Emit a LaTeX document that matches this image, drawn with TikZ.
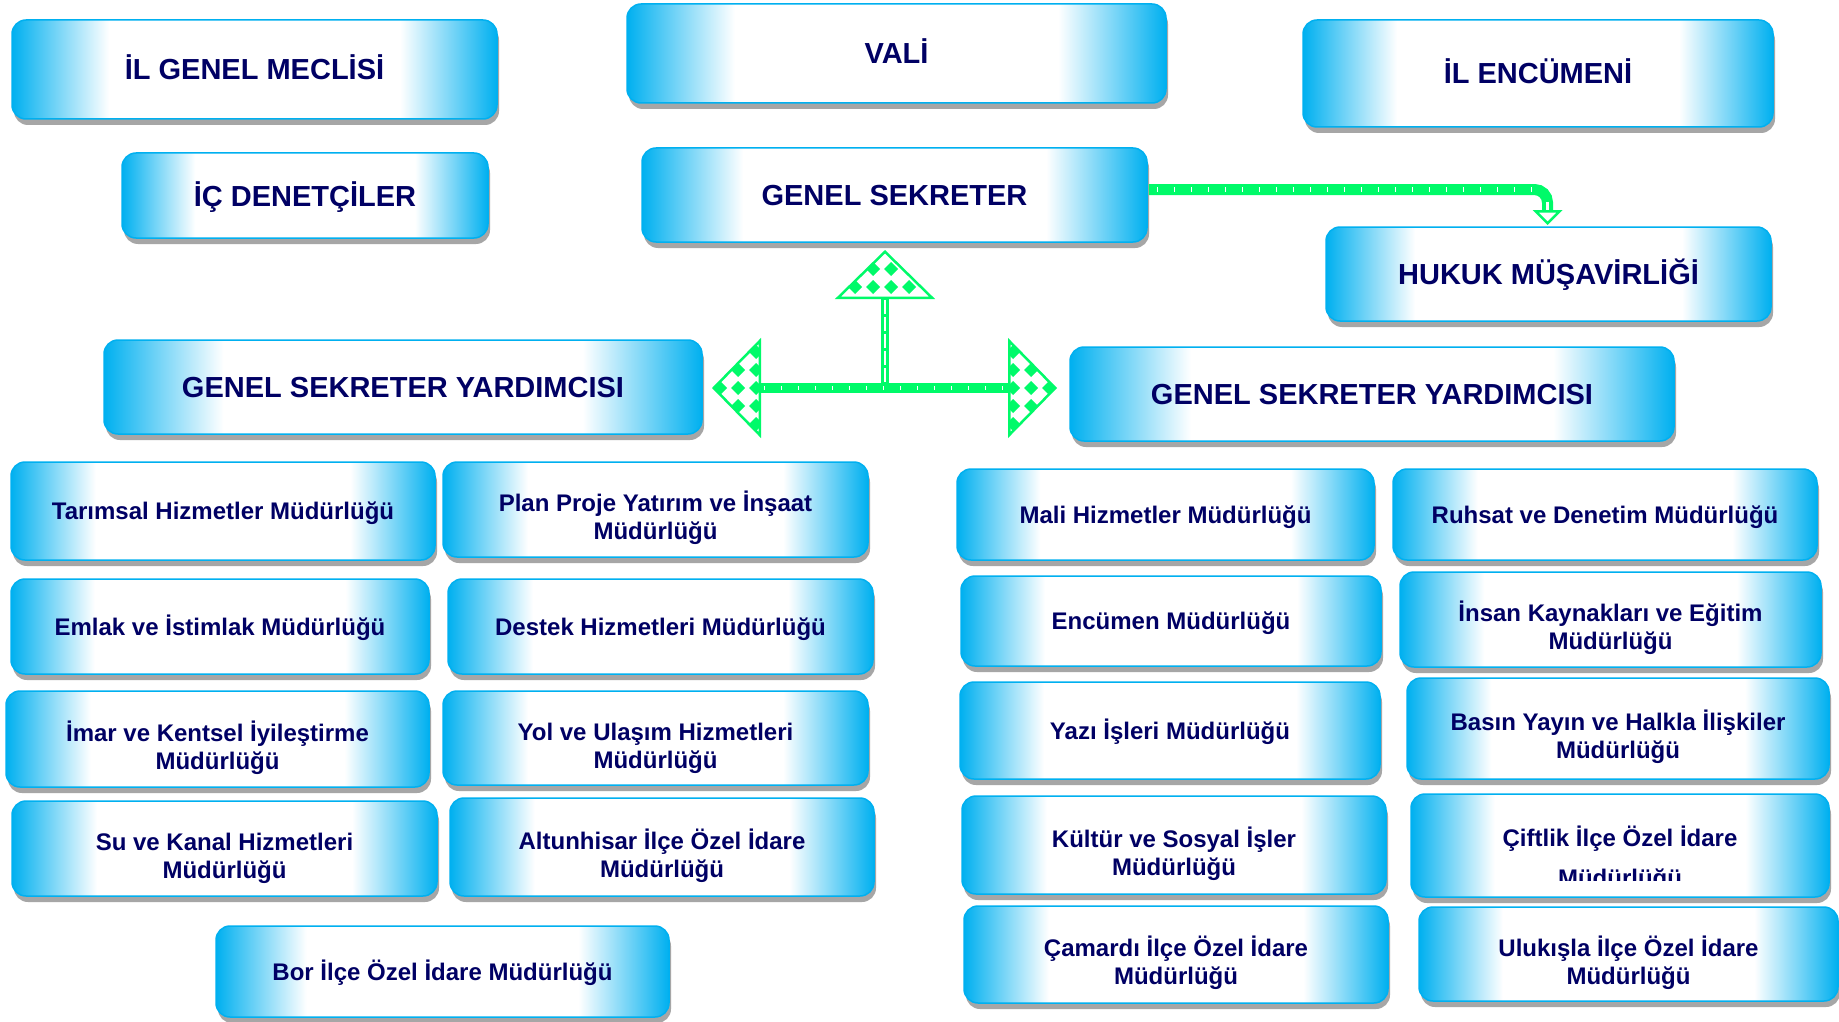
\documentclass[tikz,border=0pt]{standalone}
\usepackage{fontspec}
\setmainfont{Liberation Sans}
\usetikzlibrary{shadows,calc}
\definecolor{boxblue}{RGB}{0,176,240}
\definecolor{navy}{RGB}{0,0,100}
\definecolor{arrgreen}{RGB}{0,250,105}
\pgfdeclarehorizontalshading{boxshade}{100bp}{rgb(0bp)=(0,0.69,0.94); rgb(25bp)=(0,0.69,0.94); rgb(35bp)=(1,1,1); rgb(65bp)=(1,1,1); rgb(75bp)=(0,0.69,0.94); rgb(100bp)=(0,0.69,0.94)}
\tikzset{
  obox/.style={rounded corners=14pt, draw=boxblue, line width=1.5pt, shade, shading=boxshade,
    text=navy, align=center, inner sep=0pt,
    drop shadow={shadow xshift=2pt, shadow yshift=-6pt, fill=black!35, opacity=1}},
  title/.style={obox, font=\bfseries\fontsize{29pt}{34pt}\selectfont, text height=21pt, text depth=0pt},
  unitone/.style={obox, font=\bfseries\fontsize{24pt}{28pt}\selectfont, text height=17pt, text depth=0pt},
  unittwo/.style={obox, font=\bfseries\fontsize{24pt}{28pt}\selectfont, text height=60pt, text depth=0pt},
  plain/.style={text=navy, font=\bfseries\fontsize{24pt}{28pt}\selectfont, inner sep=0pt},
  headline/.style={arrgreen, line width=2.5pt, line join=miter},
}
\newcommand\orgbox[7]{%
  \node[#6, minimum width={(#4)-(#2)}, minimum height={(#5)-(#3)}] (#1) at ({((#2)+(#4))/2},{((#3)+(#5))/2}) {#7};}
\begin{document}
\begin{tikzpicture}[x=1pt,y=-1pt]
\fill[white] (0,0) rectangle (1839,1022);
\useasboundingbox (0,0) rectangle (1839,1022);

% top level
\orgbox{ilgm}{12}{20}{497}{119}{title}{İL GENEL MECLİSİ}
\orgbox{vali}{627}{4}{1166}{103}{title}{VALİ}
\orgbox{ilenc}{1303}{20}{1773}{127}{title}{İL ENCÜMENİ}
\orgbox{icd}{122}{153}{488}{238}{title}{İÇ DENETÇİLER}
\orgbox{gs}{642}{148}{1147}{242}{title}{GENEL SEKRETER}
\orgbox{hukuk}{1326}{227}{1771}{321}{title}{HUKUK MÜŞAVİRLİĞİ}
\orgbox{gsyL}{104}{340}{702}{434}{title}{GENEL SEKRETER YARDIMCISI}
\orgbox{gsyR}{1070}{347}{1674}{441}{title}{GENEL SEKRETER YARDIMCISI}

% left units
\orgbox{tarim}{11}{462}{435}{560}{unitone}{Tarımsal Hizmetler Müdürlüğü}
\orgbox{plan}{443}{462}{868}{557}{unittwo}{Plan Proje Yatırım ve İnşaat\\Müdürlüğü}
\orgbox{emlak}{11}{579}{429}{674}{unitone}{Emlak ve İstimlak Müdürlüğü}
\orgbox{destek}{448}{579}{873}{674}{unitone}{Destek Hizmetleri Müdürlüğü}
\orgbox{imar}{6}{691}{429}{787}{unittwo}{İmar ve Kentsel İyileştirme\\Müdürlüğü}
\orgbox{yol}{443}{691}{868}{785}{unittwo}{Yol ve Ulaşım Hizmetleri\\Müdürlüğü}
\orgbox{su}{12}{801}{437}{896}{unittwo}{Su ve Kanal Hizmetleri\\Müdürlüğü}
\orgbox{altun}{450}{798}{874}{896}{unittwo}{Altunhisar İlçe Özel İdare\\Müdürlüğü}
\orgbox{bor}{216}{926}{669}{1017}{unitone}{Bor İlçe Özel İdare Müdürlüğü}

% right units
\orgbox{mali}{957}{469}{1374}{560}{unitone}{Mali Hizmetler Müdürlüğü}
\orgbox{ruhsat}{1393}{469}{1817}{560}{unitone}{Ruhsat ve Denetim Müdürlüğü}
\orgbox{encumen}{961}{576}{1381}{666}{unitone}{Encümen Müdürlüğü}
\orgbox{insan}{1400}{572}{1821}{667}{unittwo}{İnsan Kaynakları ve Eğitim\\Müdürlüğü}
\orgbox{yazi}{960}{682}{1380}{779}{unitone}{Yazı İşleri Müdürlüğü}
\orgbox{basin}{1407}{678}{1829}{779}{unittwo}{Basın Yayın ve Halkla İlişkiler\\Müdürlüğü}
\orgbox{kultur}{962}{796}{1386}{894}{unittwo}{Kültür ve Sosyal İşler\\Müdürlüğü}
\orgbox{ciftlik}{1411}{794}{1829}{897}{unitone,text depth=16pt}{Çiftlik İlçe Özel İdare}
\orgbox{camardi}{964}{906}{1388}{1003}{unittwo}{Çamardı İlçe Özel İdare\\Müdürlüğü}
\orgbox{ulukisla}{1419}{907}{1838}{1001}{unittwo}{Ulukışla İlçe Özel İdare\\Müdürlüğü}
\begin{scope}
  \clip (1411,860) rectangle (1829,880);
  \node[plain, anchor=base] (ciftlikm) at ($(ciftlik.center)+(0,40.5)$) {Müdürlüğü};
\end{scope}

% ---- three-way arrow between GS and the two deputies
\coordinate (tipL) at ($(gsyL.east)+(11,1)$);
\coordinate (tipR) at ($(gsyR.west)+(-14,-6)$);
\coordinate (tipU) at ($(gs.south)+(-9.5,9)$);
\coordinate (baseL) at ($(tipL)+(46,0)$);
\coordinate (baseR) at ($(tipR)+(-46,0)$);
\coordinate (baseU) at ($(tipU)+(0,46)$);
\coordinate (J) at (baseU |- baseL);
\draw[arrgreen, line width=9.3pt] (baseL) -- (baseR);
\draw[white, line width=4.5pt, dash pattern=on 1.5pt off 15.5pt] ($(baseL)+(4,0)$) -- ($(baseR)+(-2,0)$);
\draw[arrgreen, line width=7.7pt] (baseU) -- ($(J)+(0,-4)$);
\draw[white, line width=2.5pt, dash pattern=on 14pt off 3pt] ($(baseU)+(0,2)$) -- ($(J)+(0,-6)$);
% heads
\fill[white] (tipU) -- ($(baseU)+(-47,0)$) -- ($(baseU)+(47,0)$) -- cycle;
\fill[white] (tipL) -- ($(baseL)+(0,-47)$) -- ($(baseL)+(0,47)$) -- cycle;
\fill[white] (tipR) -- ($(baseR)+(0,-47)$) -- ($(baseR)+(0,47)$) -- cycle;
\begin{scope}
  \clip (tipU) -- ($(baseU)+(-47,0)$) -- ($(baseU)+(47,0)$) -- cycle;
  \foreach \i in {-3,...,3} \foreach \j in {-2,...,2}
    \fill[arrgreen] ({873+18*\i},{269+18*\j}) ++(-7,0) -- ++(7,-7) -- ++(7,7) -- ++(-7,7) -- cycle;
\end{scope}
\begin{scope}
  \clip (tipL) -- ($(baseL)+(0,-47)$) -- ($(baseL)+(0,47)$) -- cycle;
  \foreach \i in {-2,...,2} \foreach \j in {-3,...,3}
    \fill[arrgreen] ({738+18*\i},{388+18*\j}) ++(-7,0) -- ++(7,-7) -- ++(7,7) -- ++(-7,7) -- cycle;
\end{scope}
\begin{scope}
  \clip (tipR) -- ($(baseR)+(0,-47)$) -- ($(baseR)+(0,47)$) -- cycle;
  \foreach \i in {-2,...,2} \foreach \j in {-3,...,3}
    \fill[arrgreen] ({1031+18*\i},{388+18*\j}) ++(-7,0) -- ++(7,-7) -- ++(7,7) -- ++(-7,7) -- cycle;
\end{scope}
\draw[headline] (tipU) -- ($(baseU)+(-47,0)$) -- ($(baseU)+(47,0)$) -- cycle;
\draw[headline] (tipL) -- ($(baseL)+(0,-47)$) -- ($(baseL)+(0,47)$) -- cycle;
\draw[headline] (tipR) -- ($(baseR)+(0,-47)$) -- ($(baseR)+(0,47)$) -- cycle;

% ---- GS to Hukuk arrow
\coordinate (hs) at ($(gs.east)+(1,-5.5)$);
\coordinate (hb) at ($(hukuk.north)+(-1,-15)$);
\coordinate (ht) at ($(hukuk.north)+(-1,-3)$);
\draw[arrgreen, line width=11pt, rounded corners=13pt] (hs) -- (hs -| hb) -- (hb);
\draw[white, line width=4.5pt, dash pattern=on 1.5pt off 15.5pt] ($(hs)+(8,0)$) -- ($(hs -| hb)+(-10,0)$);
\draw[white, line width=3pt] ($(hs -| hb)+(0,12)$) -- (hb);
\filldraw[fill=white, draw=arrgreen, line width=2.5pt, line join=miter] ($(hb)+(-12,0)$) -- ($(hb)+(12,0)$) -- (ht) -- cycle;
\end{tikzpicture}
\end{document}
